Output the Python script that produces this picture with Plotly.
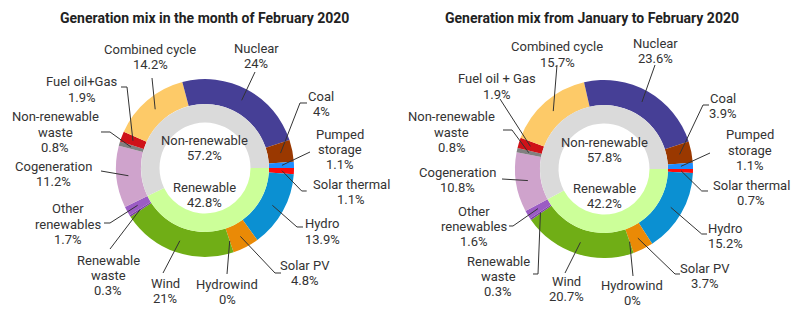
import math
import plotly.graph_objects as go

# ---- data -------------------------------------------------------------
sources = ["Solar thermal", "Hydro", "Solar PV", "Hydrowind", "Wind",
           "Renewable waste", "Other renewables", "Cogeneration",
           "Non-renewable waste", "Fuel oil+Gas", "Combined cycle",
           "Nuclear", "Coal", "Pumped storage"]
is_renewable = [True, True, True, True, True, True, True,
                False, False, False, False, False, False, False]
feb_2020 = [1.1, 13.9, 4.8, 0, 21, 0.3, 1.7, 11.2, 0.8, 1.9, 14.2, 24, 4, 1.1]
jan_feb_2020 = [0.7, 15.2, 3.7, 0, 20.7, 0.3, 1.6, 10.8, 0.8, 1.9, 15.7, 23.6, 3.9, 1.1]

labels_feb = ["Solar thermal", "Hydro", "Solar PV", "Hydrowind", "Wind",
              "Renewable\nwaste", "Other\nrenewables", "Cogeneration",
              "Non-renewable\nwaste", "Fuel oil+Gas", "Combined cycle",
              "Nuclear", "Coal", "Pumped\nstorage"]
labels_ytd = ["Solar thermal", "Hydro", "Solar PV", "Hydrowind", "Wind",
              "Renewable\nwaste", "Other\nrenewables", "Cogeneration",
              "Non-renewable\nwaste", "Fuel oil + Gas", "Combined cycle",
              "Nuclear", "Coal", "Pumped\nstorage"]

titles = ["Generation mix in the month of February 2020",
          "Generation mix from January to February 2020"]

# ---- style ------------------------------------------------------------
source_colors = ["#ff0a0a", "#0b90d2", "#ea8a06", "#5a9bd4", "#70ae16",
                 "#7d3fa6", "#9b5cc4", "#cfa3cc", "#808080", "#cf1218",
                 "#fdca68", "#463f96", "#9a3800", "#1e8cff"]
group_colors = {"Renewable": "#ccff99", "Non-renewable": "#dadada"}
TEXT = "#333333"
FONT = "Roboto, Arial, sans-serif"
W, H = 800, 332
R_OUT, R_MID, R_IN = 89, 64, 45.5
R_LEADER = 77
ROTATION = 90
LINE_GAP = 15.3

# per-chart layout: pie centre, title position, label anchors and leader bends
charts = [
    dict(values=feb_2020, names=labels_feb, center=(205, 168), title_xy=(205, 18),
         inner_y={"Non-renewable": 140, "Renewable": 187},
         label_pos=[(351, 184), (322, 224), (305, 265), (227, 284), (165, 283),
                    (108, 260), (68, 209), (53, 166), (55, 117), (82, 82),
                    (150, 49), (256, 48), (321, 96), (340, 134)],
         bends=[[(301.7, 191), (306.7, 191)], [(297, 227), (303, 227)],
                [(275, 273), (281, 273)], [(227, 274)], [(163, 273)],
                [(110, 249)], [(110, 223), (104, 223)], [(101, 171)],
                [(110, 132), (101, 132)], [(127, 87), (121, 87)],
                [(152, 78)], [(255, 72)], [(300, 103), (307, 103)],
                [(310, 152)]]),
    dict(values=jan_feb_2020, names=labels_ytd, center=(604, 169), title_xy=(592, 18),
         inner_y={"Non-renewable": 142, "Renewable": 188},
         label_pos=[(751, 185), (725, 228), (705, 268), (632, 285), (566, 281),
                    (498, 261), (474, 211), (457, 172), (452, 117), (497, 79),
                    (557, 47), (655, 43), (723, 98), (750, 135)],
         bends=[[(701.7, 191), (708, 191)], [(701.7, 234), (707, 234)],
                [(675, 274), (680, 274)], [(633, 276)], [(565, 273)],
                [(538, 274), (533, 274)], [(513, 226), (509, 226)], [(502, 179)],
                [(512, 130), (503, 130)], [(500, 99)],
                [(557, 65)], [(655, 65)], [(703, 105), (709, 105)],
                [(710, 153)]]),
]


def px(x, y):
    return x / W, 1 - y / H


def domain(cx, cy, r):
    x0, y1 = px(cx - r, cy - r)
    x1, y0 = px(cx + r, cy + r)
    return dict(x=[x0, x1], y=[y0, y1])


def fmt(v):
    return f"{round(v, 1):g}%"


fig = go.Figure()
annotations = []
shapes = []

for title, ch in zip(titles, charts):
    vals = ch["values"]
    cx, cy = ch["center"]
    groups = {"Renewable": sum(v for v, r in zip(vals, is_renewable) if r),
              "Non-renewable": sum(v for v, r in zip(vals, is_renewable) if not r)}

    # outer ring: individual technologies
    fig.add_trace(go.Pie(
        labels=sources, values=vals, sort=False, direction="clockwise",
        rotation=ROTATION, hole=R_MID / R_OUT, domain=domain(cx, cy, R_OUT),
        marker=dict(colors=source_colors, line=dict(width=0)),
        textinfo="none", hoverinfo="label+percent", showlegend=False))

    # inner ring: renewable / non-renewable totals
    fig.add_trace(go.Pie(
        labels=list(groups.keys()), values=list(groups.values()), sort=False,
        direction="clockwise", rotation=ROTATION, hole=R_IN / R_MID,
        domain=domain(cx, cy, R_MID),
        marker=dict(colors=[group_colors[g] for g in groups], line=dict(width=0)),
        textinfo="none", hoverinfo="label+percent", showlegend=False))

    # title
    tx, ty = px(*ch["title_xy"])
    annotations.append(dict(x=tx, y=ty, xref="paper", yref="paper", showarrow=False,
                            text="<b>" + title + "</b>",
                            font=dict(family=FONT, size=14, color="#222"),
                            xanchor="center", yanchor="middle"))

    # centre labels
    for g, total in groups.items():
        y0 = ch["inner_y"][g]
        for i, line in enumerate([g, fmt(total)]):
            ax, ay = px(cx, y0 + i * LINE_GAP)
            annotations.append(dict(x=ax, y=ay, xref="paper", yref="paper",
                                    showarrow=False, text=line,
                                    font=dict(family=FONT, size=13, color=TEXT),
                                    xanchor="center", yanchor="middle"))

    # outer labels with leader lines
    total = sum(vals)
    cum = 0.0
    for name, v, (lx, ly), bend in zip(ch["names"], vals, ch["label_pos"], ch["bends"]):
        mid = (cum + v / 2) / total
        cum += v
        ang = math.radians(ROTATION + 360 * mid)
        sx = cx + R_LEADER * math.sin(ang)
        sy = cy - R_LEADER * math.cos(ang)
        pts = [(sx, sy)] + bend
        path = "M " + " L ".join("{:.5f},{:.5f}".format(*px(x, y)) for x, y in pts)
        shapes.append(dict(type="path", path=path, xref="paper", yref="paper",
                           line=dict(color="#333", width=1)))
        for i, line in enumerate(name.split("\n") + [fmt(v)]):
            ax, ay = px(lx, ly + i * LINE_GAP)
            annotations.append(dict(x=ax, y=ay, xref="paper", yref="paper",
                                    showarrow=False, text=line,
                                    font=dict(family=FONT, size=13, color=TEXT),
                                    xanchor="center", yanchor="middle"))

fig.update_layout(width=W, height=H, margin=dict(l=0, r=0, t=0, b=0),
                  paper_bgcolor="white", plot_bgcolor="white",
                  annotations=annotations, shapes=shapes)

fig.write_html("out.html")
